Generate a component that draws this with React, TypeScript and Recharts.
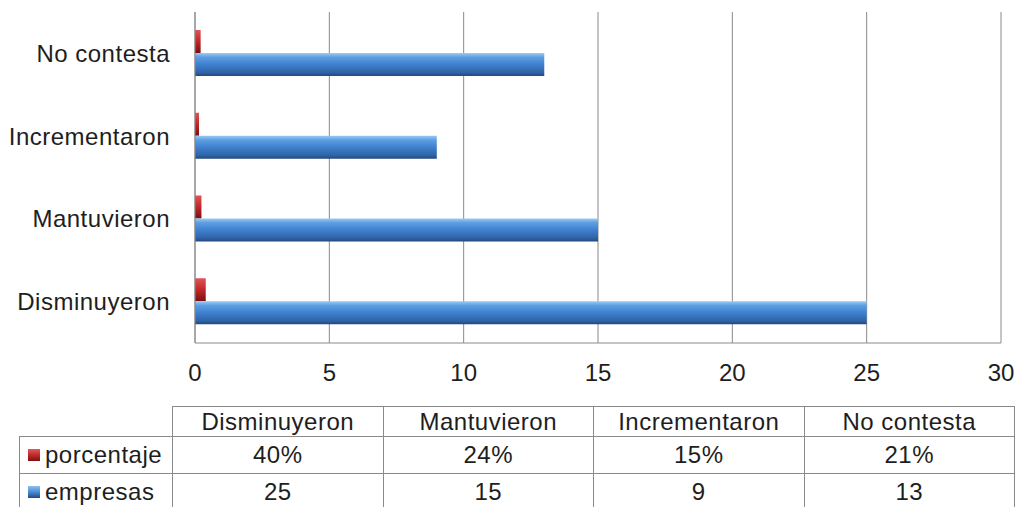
import { Bar, BarChart, CartesianGrid, XAxis, YAxis } from "recharts";

const categories = ["Disminuyeron", "Mantuvieron", "Incrementaron", "No contesta"];
const porcentaje = [0.4, 0.24, 0.15, 0.21];
const empresas = [25, 15, 9, 13];
const xTicks = [0, 5, 10, 15, 20, 25, 30];

const data = categories.map((c, i) => ({ c, porcentaje: porcentaje[i], empresas: empresas[i] }));

const font = '"Liberation Sans", Arial, sans-serif';
const gridColor = "#8a8a8a";
const textColor = "#1e1e1e";

const redSwatch = "linear-gradient(180deg, #e05a5a 0%, #c02a2a 50%, #7d1111 100%)";
const blueSwatch = "linear-gradient(180deg, #8ec0f0 0%, #4a8bd6 50%, #24497e 100%)";

const seriesRows = [
  { name: "porcentaje", swatch: redSwatch, values: porcentaje.map((v) => `${Math.round(v * 100)}%`) },
  { name: "empresas", swatch: blueSwatch, values: empresas.map((v) => `${v}`) },
];

// table geometry
const colX0 = 172;
const colW = 210.5;
const labelX = 19;
const headTop = 406;
const headH = 30;
const rowH = 37;

function Cell({ left, top, width, height, children, align = "center" }: any) {
  return (
    <div
      style={{
        position: "absolute",
        left,
        top,
        width: width + 1,
        height: height + 1,
        boxSizing: "border-box",
        border: `1px solid ${gridColor}`,
        display: "flex",
        alignItems: "center",
        justifyContent: align === "left" ? "flex-start" : "center",
        fontFamily: font,
        fontSize: 24,
        letterSpacing: 0.5,
        color: textColor,
        whiteSpace: "nowrap",
      }}
    >
      {children}
    </div>
  );
}

function DataTable() {
  return (
    <>
      {categories.map((c, i) => (
        <Cell key={c} left={colX0 + i * colW} top={headTop} width={colW} height={headH}>
          {c}
        </Cell>
      ))}
      {seriesRows.map((r, ri) => (
        <div key={r.name}>
          <Cell left={labelX} top={headTop + headH + ri * rowH} width={colX0 - labelX} height={rowH} align="left">
            <span
              style={{ display: "inline-block", width: 12, height: 12, marginLeft: 8, marginRight: 5, background: r.swatch }}
            />
            {r.name}
          </Cell>
          {r.values.map((v, i) => (
            <Cell key={i} left={colX0 + i * colW} top={headTop + headH + ri * rowH} width={colW} height={rowH}>
              {v}
            </Cell>
          ))}
        </div>
      ))}
    </>
  );
}

export default function App() {
  return (
    <div style={{ position: "absolute", left: 0, top: 0, width: 1020, height: 507, background: "#fff", overflow: "hidden" }}>
      <BarChart
        width={1020}
        height={400}
        data={data}
        layout="vertical"
        margin={{ top: 12, right: 19, left: 0, bottom: 0 }}
        barSize={23}
        barGap={0}
      >
        <defs>
          <linearGradient id="blueBar" x1="0" y1="0" x2="0" y2="1">
            <stop offset="0%" stopColor="#9ccaf5" />
            <stop offset="18%" stopColor="#5e9fe2" />
            <stop offset="50%" stopColor="#3f80cf" />
            <stop offset="85%" stopColor="#2f64a6" />
            <stop offset="100%" stopColor="#22477c" />
          </linearGradient>
          <linearGradient id="redBar" x1="0" y1="0" x2="0" y2="1">
            <stop offset="0%" stopColor="#e25454" />
            <stop offset="50%" stopColor="#c02828" />
            <stop offset="100%" stopColor="#7a1010" />
          </linearGradient>
        </defs>
        <CartesianGrid horizontal={false} stroke={gridColor} />
        <XAxis
          type="number"
          domain={[0, 30]}
          ticks={xTicks}
          height={57}
          axisLine={{ stroke: gridColor }}
          tickLine={false}
          tickSize={6}
          tickMargin={15}
          tick={{ fill: textColor, fontSize: 24, fontFamily: font }}
        />
        <YAxis
          type="category"
          dataKey="c"
          reversed
          width={195}
          axisLine={{ stroke: gridColor }}
          tickLine={false}
          tickSize={6}
          tickMargin={19}
          tick={{ fill: textColor, fontSize: 24, fontFamily: font, letterSpacing: 0.5 }}
        />
        <Bar dataKey="porcentaje" fill="url(#redBar)" isAnimationActive={false} />
        <Bar dataKey="empresas" fill="url(#blueBar)" isAnimationActive={false} />
      </BarChart>
      <DataTable />
    </div>
  );
}
